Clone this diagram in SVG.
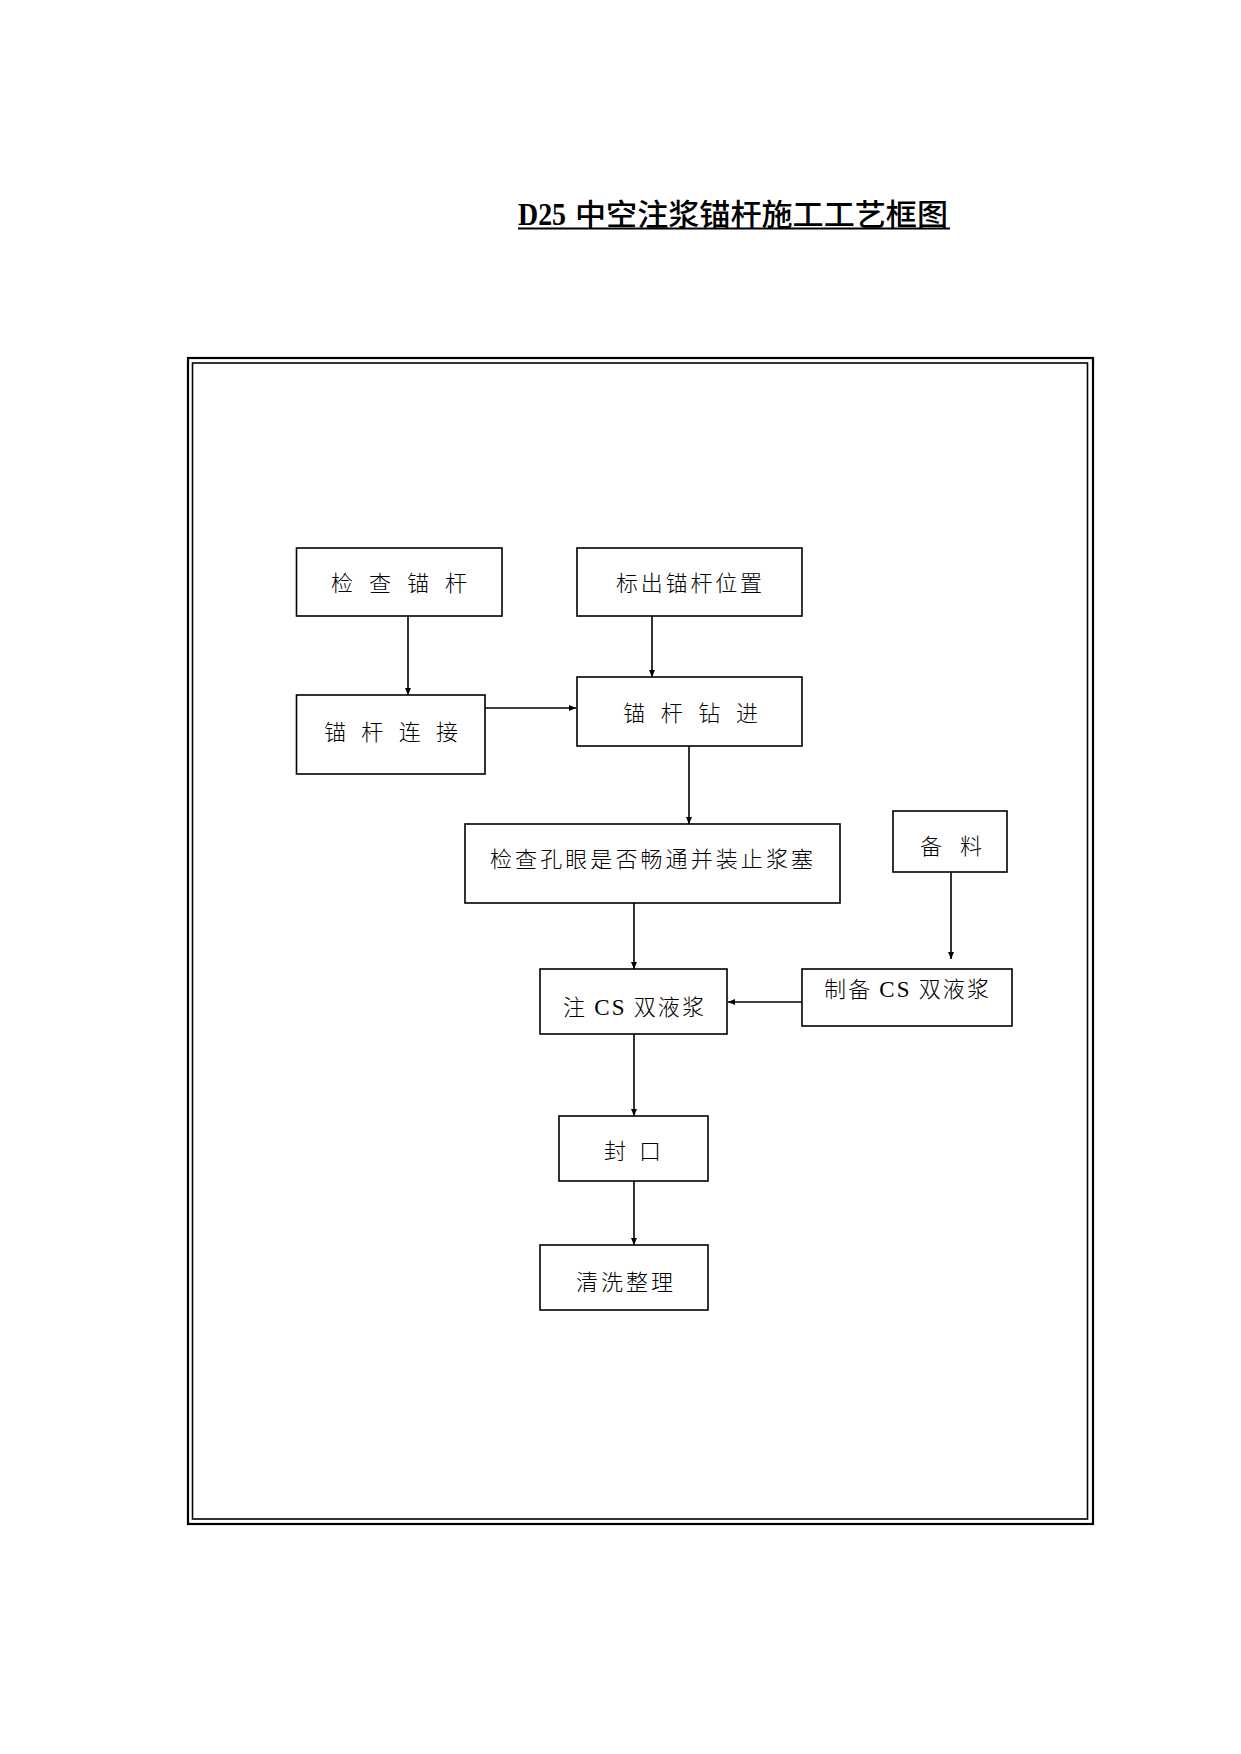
<svg xmlns="http://www.w3.org/2000/svg" width="1241" height="1754" viewBox="0 0 1241 1754">
<defs>
<marker id="arr" viewBox="0 0 7 6" refX="7" refY="3" markerWidth="7" markerHeight="6" orient="auto" markerUnits="userSpaceOnUse">
<path d="M0,0 L7,3 L0,6 z" fill="#000"/>
</marker>
<style>
.box{fill:#fff;stroke:#000;stroke-width:1.6}
.t{font-family:"Noto Sans CJK SC","Liberation Serif",serif;font-size:22px;font-weight:300;fill:#000}
.lat{font-family:"Liberation Serif",serif;font-weight:normal;font-size:23px}
.conn line{stroke:#000;stroke-width:1.6;marker-end:url(#arr)}
</style>
</defs>
<rect width="1241" height="1754" fill="#fff"/>
<g id="title">
<text x="518" y="225" textLength="48" lengthAdjust="spacingAndGlyphs" style="font-family:'Liberation Serif',serif;font-size:31px;font-weight:bold">D25</text>
<text x="575" y="225" textLength="373" lengthAdjust="spacingAndGlyphs" style="font-family:'Noto Sans CJK SC',sans-serif;font-size:30px;font-weight:500">中空注浆锚杆施工工艺框图</text>
<line x1="518" y1="228.5" x2="950" y2="228.5" stroke="#000" stroke-width="1.8"/>
</g>
<g id="frame" fill="none" stroke="#000">
<rect x="188" y="358" width="905" height="1166" stroke-width="2.2"/>
<rect x="192.5" y="363" width="895" height="1156" stroke-width="1.6"/>
</g>
<g id="n1"><rect class="box" x="296.5" y="548" width="205.5" height="68"/><text class="t" x="331" y="591" textLength="136" lengthAdjust="spacing">检查锚杆</text></g>
<g id="n2"><rect class="box" x="577" y="548" width="225" height="68"/><text class="t" x="616" y="591" textLength="146" lengthAdjust="spacing">标出锚杆位置</text></g>
<g id="n3"><rect class="box" x="296.5" y="695" width="188.5" height="79"/><text class="t" x="324" y="740" textLength="134" lengthAdjust="spacing">锚杆连接</text></g>
<g id="n4"><rect class="box" x="577" y="677" width="225" height="69"/><text class="t" x="623" y="721" textLength="135" lengthAdjust="spacing">锚杆钻进</text></g>
<g id="n5"><rect class="box" x="465" y="824" width="375" height="79"/><text class="t" x="490" y="867" textLength="323" lengthAdjust="spacing">检查孔眼是否畅通并装止浆塞</text></g>
<g id="n6"><rect class="box" x="893" y="811" width="114" height="61"/><text class="t" x="920" y="854" textLength="62" lengthAdjust="spacing">备料</text></g>
<g id="n7"><rect class="box" x="540" y="969" width="187" height="65"/><text class="t" x="563" y="1015" textLength="141" lengthAdjust="spacing">注 <tspan class="lat">CS</tspan> 双液浆</text></g>
<g id="n8"><rect class="box" x="802" y="969" width="210" height="57"/><text class="t" x="824" y="997" textLength="165" lengthAdjust="spacing">制备 <tspan class="lat">CS</tspan> 双液浆</text></g>
<g id="n9"><rect class="box" x="559" y="1116" width="149" height="65"/><text class="t" x="604" y="1159" textLength="57" lengthAdjust="spacing">封口</text></g>
<g id="n10"><rect class="box" x="540" y="1245" width="168" height="65"/><text class="t" x="576" y="1290" textLength="97" lengthAdjust="spacing">清洗整理</text></g>
<g id="connectors" class="conn">
<line x1="408" y1="616" x2="408" y2="695"/>
<line x1="652" y1="616" x2="652" y2="677"/>
<line x1="485" y1="708" x2="576" y2="708"/>
<line x1="689" y1="746" x2="689" y2="824"/>
<line x1="634" y1="903" x2="634" y2="969"/>
<line x1="951" y1="872" x2="951" y2="959"/>
<line x1="802" y1="1002" x2="728" y2="1002"/>
<line x1="634" y1="1034" x2="634" y2="1116"/>
<line x1="634" y1="1181" x2="634" y2="1245"/>
</g>
</svg>
